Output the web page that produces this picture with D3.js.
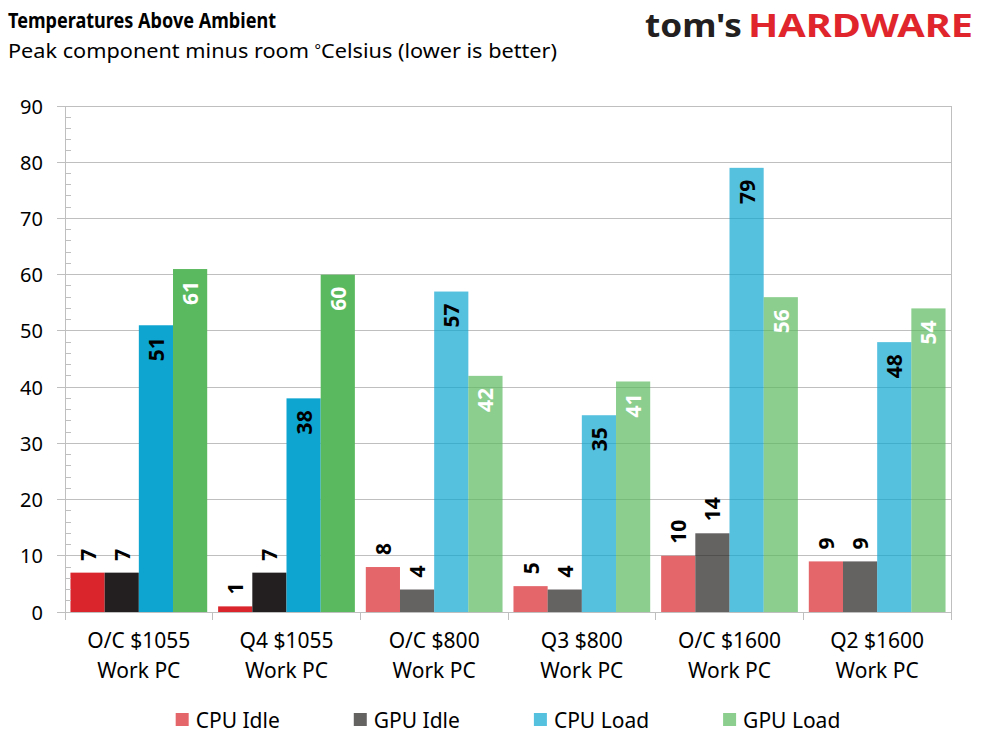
<!DOCTYPE html>
<meta charset="utf-8">
<title>Temperatures Above Ambient</title>
<style>

body {
  margin: 0;
  background: #fff;
}

text {
  font-family: "Noto Sans", "Open Sans", sans-serif;
}

.grid line, .axis line {
  stroke: #bfbfbf;
  stroke-width: 1px;
  shape-rendering: crispEdges;
}

</style>
<body>
<script src="https://cdn.jsdelivr.net/npm/d3@7"></script>
<script>

var categories = ["O/C $1055|Work PC", "Q4 $1055|Work PC", "O/C $800|Work PC",
                  "Q3 $800|Work PC", "O/C $1600|Work PC", "Q2 $1600|Work PC"];
var series = ["CPU Idle", "GPU Idle", "CPU Load", "GPU Load"];
var cpuIdle = [7, 1, 8, 4.6, 10, 9];
var gpuIdle = [7, 7, 4, 4, 14, 9];
var cpuLoad = [51, 38, 57, 35, 79, 48];
var gpuLoad = [61, 60, 42, 41, 56, 54];
var yTicks = [0, 10, 20, 30, 40, 50, 60, 70, 80, 90];
var highlighted = ["O/C $1055|Work PC", "Q4 $1055|Work PC"];

var values = [cpuIdle, gpuIdle, cpuLoad, gpuLoad];
var colors = ["#d9252b", "#231f20", "#0ea5d1", "#5ab95e"];
var labelInside = [false, false, true, true];
var labelColor = ["#000", "#000", "#000", "#fff"];

var w = 989,
    h = 741,
    pLeft = 65,
    pRight = 951,
    pTop = 106,
    pBottom = 612;

var svg = d3.select("body").append("svg")
    .attr("width", w)
    .attr("height", h);

var x = d3.scaleBand().domain(categories).range([pLeft, pRight]);
var xs = d3.scaleBand().domain(series).range([0, x.bandwidth()]).paddingOuter(0.16);
var y = d3.scaleLinear().domain([0, 90]).range([pBottom, pTop]);

// titles
svg.append("text")
    .attr("x", 8).attr("y", 28)
    .attr("font-size", 21).attr("font-weight", "bold")
    .attr("textLength", 268).attr("lengthAdjust", "spacingAndGlyphs")
    .text("Temperatures Above Ambient");

var sub = svg.append("text")
    .attr("x", 8).attr("y", 58)
    .attr("font-size", 20)
    .attr("textLength", 549).attr("lengthAdjust", "spacingAndGlyphs");
sub.append("tspan").text("Peak component minus room ");
sub.append("tspan").attr("font-size", 14).attr("dy", -3).text("°");
sub.append("tspan").attr("dy", 3).text("Celsius (lower is better)");

// logo
svg.append("text")
    .attr("x", 645).attr("y", 37)
    .attr("font-size", 32).attr("font-weight", "bold")
    .attr("fill", "#231f20")
    .attr("textLength", 97).attr("lengthAdjust", "spacingAndGlyphs")
    .text("tom's");

svg.append("text")
    .attr("x", 748).attr("y", 37)
    .attr("font-size", 32).attr("font-weight", "bold")
    .attr("fill", "#e0252c")
    .attr("textLength", 225).attr("lengthAdjust", "spacingAndGlyphs")
    .text("HARDWARE");

// gridlines
svg.append("g").attr("class", "grid")
  .selectAll("line")
    .data(yTicks.slice(1))
  .enter().append("line")
    .attr("x1", pLeft - 8).attr("x2", pRight)
    .attr("y1", y).attr("y2", y);

// bars
var groups = svg.selectAll(".group")
    .data(categories)
  .enter().append("g")
    .attr("class", "group")
    .attr("transform", function(d) { return "translate(" + x(d) + ",0)"; });

groups.selectAll("rect")
    .data(function(d, i) {
      return series.map(function(s, j) {
        return {cat: d, s: s, j: j, v: values[j][i]};
      });
    })
  .enter().append("rect")
    .attr("x", function(d) { return xs(d.s); })
    .attr("width", xs.bandwidth())
    .attr("y", function(d) { return y(d.v); })
    .attr("height", function(d) { return y(0) - y(d.v); })
    .attr("fill", function(d) { return colors[d.j]; })
    .attr("fill-opacity", function(d) { return highlighted.indexOf(d.cat) >= 0 ? 1 : 0.7; });

groups.selectAll(".label")
    .data(function(d, i) {
      return series.map(function(s, j) {
        return {s: s, j: j, v: values[j][i]};
      });
    })
  .enter().append("text")
    .attr("class", "label")
    .attr("transform", function(d) {
      var cx = xs(d.s) + xs.bandwidth() / 2,
          cy = labelInside[d.j] ? y(d.v) + 12 : y(d.v) - 12;
      return "translate(" + cx + "," + cy + ")rotate(-90)";
    })
    .attr("text-anchor", function(d) { return labelInside[d.j] ? "end" : "start"; })
    .attr("dominant-baseline", "central")
    .attr("font-size", 21).attr("font-weight", "bold")
    .attr("fill", function(d) { return labelColor[d.j]; })
    .text(function(d) { return d3.format(".0f")(d.v); });

// axes
var axis = svg.append("g").attr("class", "axis");

axis.append("line")
    .attr("x1", pLeft).attr("x2", pLeft)
    .attr("y1", pTop).attr("y2", pBottom + 8);

axis.append("line")
    .attr("x1", pRight).attr("x2", pRight)
    .attr("y1", pTop).attr("y2", pBottom + 8);

axis.append("line")
    .attr("x1", pLeft - 8).attr("x2", pRight)
    .attr("y1", pBottom).attr("y2", pBottom);

axis.selectAll(".minor")
    .data(d3.range(2, 90, 2).filter(function(d) { return d % 10; }))
  .enter().append("line")
    .attr("class", "minor")
    .attr("x1", pLeft).attr("x2", pLeft + 6)
    .attr("y1", y).attr("y2", y);

axis.selectAll(".cattick")
    .data(categories.slice(1))
  .enter().append("line")
    .attr("class", "cattick")
    .attr("x1", x).attr("x2", x)
    .attr("y1", pBottom).attr("y2", pBottom + 8);

svg.selectAll(".ytick")
    .data(yTicks)
  .enter().append("text")
    .attr("class", "ytick")
    .attr("x", 43)
    .attr("y", y)
    .attr("text-anchor", "end")
    .attr("dominant-baseline", "central")
    .attr("font-size", 20)
    .attr("fill", "#000")
    .text(function(d) { return d; });

var catLabels = svg.selectAll(".xlabel")
    .data(categories)
  .enter().append("text")
    .attr("class", "xlabel")
    .attr("text-anchor", "middle")
    .attr("font-size", 21)
    .attr("fill", "#000");

catLabels.selectAll("tspan")
    .data(function(d) { return d.split("|").map(function(t) { return {t: t, c: d}; }); })
  .enter().append("tspan")
    .attr("x", function(d) { return x(d.c) + x.bandwidth() / 2; })
    .attr("y", function(d, i) { return 648 + i * 30; })
    .text(function(d) { return d.t; });

// legend
var legend = svg.append("g");

var items = legend.selectAll("g")
    .data(series)
  .enter().append("g");

items.append("rect")
    .attr("width", 13).attr("height", 13)
    .attr("y", 713)
    .attr("fill", function(d, i) { return colors[i]; })
    .attr("fill-opacity", 0.7);

items.append("text")
    .attr("x", 20)
    .attr("y", 719.5)
    .attr("dominant-baseline", "central")
    .attr("font-size", 21)
    .text(function(d) { return d; });

var widths = [];
items.each(function() { widths.push(d3.select(this).select("text").node().getComputedTextLength()); });
var total = d3.sum(widths) + series.length * 20 + (series.length - 1) * 74;
var pos = (pLeft + pRight) / 2 - total / 2;
items.attr("transform", function(d, i) {
  var p = pos;
  pos += 20 + widths[i] + 74;
  return "translate(" + p + ",0)";
});

</script>
